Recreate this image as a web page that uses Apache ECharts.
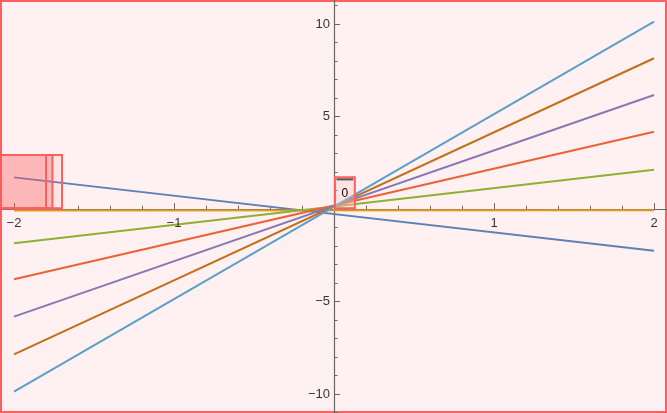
<!DOCTYPE html>
<html><head><meta charset="utf-8">
<script src="https://cdn.jsdelivr.net/npm/echarts@6/dist/echarts.min.js"></script>
<style>html,body{margin:0;padding:0;background:#fff}#c{width:667px;height:413px}</style>
</head><body><div id="c"></div>
<script>
// ---- data ----
const xs = [-2, 2];
const seriesNames = ['k = -1', 'k = 0', 'k = 1', 'k = 2', 'k = 3', 'k = 4', 'k = 5'];
const yK_1 = [1.72, -2.25];
const yK0  = [-0.07, -0.06];
const yK1  = [-1.84, 2.13];
const yK2  = [-3.79, 4.19];
const yK3  = [-5.81, 6.17];
const yK4  = [-7.85, 8.16];
const yK5  = [-9.87, 10.14];
const xTickLabels = [-2, -1, 1, 2];
const yTickLabels = [-10, -5, 5, 10];
const boxes = [[-2.1, 0.05, -1.70, 2.93], [-2.1, 0.05, -1.76, 2.93], [-2.1, 0.05, -1.80, 2.93]];
const zeroBox = [0.006, 0.05, 0.13, 1.72];
const zeroBoxLabel = '0';

// ---- layout / style ----
const XMIN = -2.0875, XMAX = 2.081, YMIN = -11.02, YMAX = 11.31;
const colors = ['#5E81B5', '#E19C24', '#8FB032', '#EB6235', '#8778B3', '#C56E1A', '#5D9EC7'];
const ySets = [yK_1, yK0, yK1, yK2, yK3, yK4, yK5];
const minus = v => String(v).replace('-', '\u2212');
const xMinor = [], yMinor = [];
for (let i = -10; i <= 10; i++) { if (i % 5 !== 0) xMinor.push(+(i * 0.2).toFixed(2)); }
for (let i = -11; i <= 11; i++) { if (i % 5 !== 0) yMinor.push(i); }
const axisColor = '#666';
const font = '"Liberation Sans", Arial, sans-serif';

const boxStyles = [
  { fill: 'rgba(255,90,90,0.08)' },
  { fill: 'rgba(255,90,90,0.32)' },
  { fill: 'rgba(255,90,90,0.0)' }
];

const lineSeries = ySets.map((ys, i) => ({
  name: seriesNames[i], type: 'line', xAxisIndex: 0, yAxisIndex: 0,
  data: xs.map((x, j) => [x, ys[j]]),
  showSymbol: false, symbol: 'none',
  lineStyle: { color: colors[i], width: 2 },
  z: 3, silent: true
}));

const labelStyle = { show: true, color: '#000', fontSize: 13, fontFamily: font };
const tickLabelSeries = [
  { type: 'scatter', xAxisIndex: 0, yAxisIndex: 0, symbol: 'circle', symbolSize: 0, silent: true, z: 6,
    data: xTickLabels.map(v => [v, 0]),
    label: Object.assign({ position: 'bottom', distance: 8, formatter: p => minus(p.value[0]) }, labelStyle) },
  { type: 'scatter', xAxisIndex: 0, yAxisIndex: 0, symbol: 'circle', symbolSize: 0, silent: true, z: 6,
    data: yTickLabels.map(v => [0, v]),
    label: Object.assign({ position: 'left', distance: 4, formatter: p => minus(p.value[1]) }, labelStyle) }
];

const gridBase = { left: 0, right: 0, top: 0, bottom: 0, containLabel: false, outerBoundsMode: 'none' };

const chart = echarts.init(document.getElementById('c'), null, { renderer: 'canvas' });
chart.setOption({
  animation: false,
  grid: [
    Object.assign({ show: true, backgroundColor: '#FFF1F1', borderColor: '#FF5F5F', borderWidth: 4 }, gridBase),
    Object.assign({ show: false }, gridBase)
  ],
  xAxis: [
    { type: 'value', gridIndex: 0, min: XMIN, max: XMAX, position: 'bottom',
      axisLine: { show: true, onZero: true, lineStyle: { color: axisColor, width: 1.2 } },
      axisTick: { show: true, inside: true, length: 6, customValues: xTickLabels, lineStyle: { color: axisColor } },
      axisLabel: { show: false },
      splitLine: { show: false }, minorTick: { show: false } },
    { type: 'value', gridIndex: 1, min: XMIN, max: XMAX, position: 'bottom',
      axisLine: { show: false, onZero: true },
      axisTick: { show: true, inside: true, length: 3.5, customValues: xMinor, lineStyle: { color: axisColor } },
      axisLabel: { show: false }, splitLine: { show: false } }
  ],
  yAxis: [
    { type: 'value', gridIndex: 0, min: YMIN, max: YMAX, position: 'left',
      axisLine: { show: true, onZero: true, lineStyle: { color: axisColor, width: 1.2 } },
      axisTick: { show: true, inside: true, length: 6, customValues: yTickLabels, lineStyle: { color: axisColor } },
      axisLabel: { show: false },
      splitLine: { show: false }, minorTick: { show: false } },
    { type: 'value', gridIndex: 1, min: YMIN, max: YMAX, position: 'left',
      axisLine: { show: false, onZero: true },
      axisTick: { show: true, inside: true, length: 3.5, customValues: yMinor, lineStyle: { color: axisColor } },
      axisLabel: { show: false }, splitLine: { show: false } }
  ],
  series: lineSeries.concat(tickLabelSeries).concat([
    { type: 'custom', xAxisIndex: 0, yAxisIndex: 0, z: 5, silent: true, clip: false,
      data: boxes,
      renderItem: function (params, api) {
        const p0 = api.coord([api.value(0), api.value(1)]);
        const p1 = api.coord([api.value(2), api.value(3)]);
        return { type: 'rect',
          shape: { x: Math.min(p0[0], p1[0]), y: Math.min(p0[1], p1[1]), width: Math.abs(p1[0] - p0[0]), height: Math.abs(p1[1] - p0[1]) },
          style: { fill: boxStyles[params.dataIndex].fill, stroke: '#FF5F5F', lineWidth: 2 } };
      } },
    { type: 'custom', xAxisIndex: 0, yAxisIndex: 0, z: 5, silent: true, clip: false,
      data: [zeroBox.concat([zeroBoxLabel])],
      renderItem: function (params, api) {
        const p0 = api.coord([api.value(0), api.value(1)]);
        const p1 = api.coord([api.value(2), api.value(3)]);
        const x = Math.min(p0[0], p1[0]), y = Math.min(p0[1], p1[1]);
        const w = Math.abs(p1[0] - p0[0]), h = Math.abs(p1[1] - p0[1]);
        return { type: 'group', children: [
          { type: 'rect', shape: { x: x, y: y, width: w, height: h }, style: { fill: 'rgba(255,200,200,0.35)', stroke: '#FF5F5F', lineWidth: 2 } },
          { type: 'line', shape: { x1: x + 1.5, y1: y + 2, x2: x + w - 1.5, y2: y + 2 }, style: { stroke: '#555', lineWidth: 2 } },
          { type: 'text', style: { text: api.value(4), x: x + w / 2, y: y + h / 2 + 1, align: 'center', verticalAlign: 'middle', fill: '#000', font: '12px ' + font } }
        ] };
      } }
  ])
});
</script></body></html>
